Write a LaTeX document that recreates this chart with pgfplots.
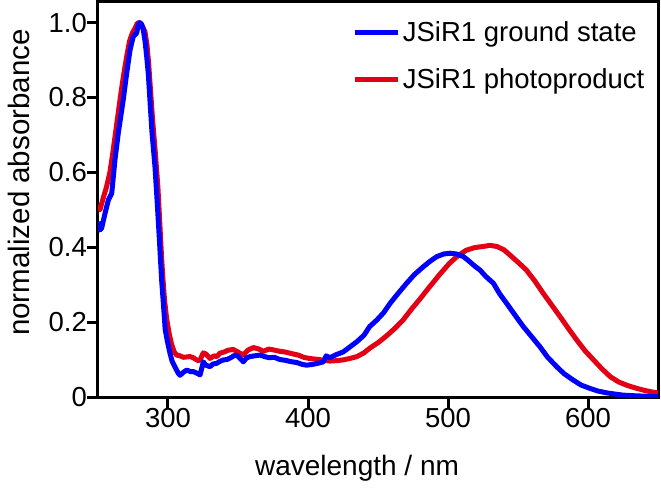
\documentclass[border=0pt]{standalone}
\usepackage{fontspec}
\setmainfont{Liberation Sans}
\usepackage{pgfplots}
\pgfplotsset{compat=1.18}
\definecolor{myblue}{RGB}{0,0,255}
\definecolor{myred}{RGB}{228,0,20}
\begin{document}
\begin{tikzpicture}[font=\fontsize{27.5}{32}\selectfont]
\begin{axis}[
  scale only axis,
  width=560pt, height=395pt,
  xmin=250, xmax=650,
  ymin=0, ymax=1.055,
  xtick={300,400,500,600},
  ytick={0,0.2,0.4,0.6,0.8,1.0},
  yticklabels={0,0.2,0.4,0.6,0.8,1.0},
  tick pos=left,
  tick align=outside,
  major tick length=11pt,
  tick style={line width=3pt, black},
  axis line style={line width=3pt},
  /pgf/number format/assume math mode=true,
  xticklabel style={anchor=north, inner sep=0pt},
  yticklabel style={anchor=east, inner sep=0pt},
  xlabel={wavelength / nm},
  ylabel={normalized absorbance},
  xlabel style={at={(axis description cs:0.4625,-0.18)}, anchor=center, font=\fontsize{28}{32}\selectfont},
  ylabel style={at={(axis description cs:-0.142,0.543)}, anchor=center, font=\fontsize{29.5}{34}\selectfont},
  legend style={at={(axis description cs:0.985,0.96)}, anchor=north east, draw=none, fill=none, row sep=21pt},
  legend cell align=left,
  reverse legend,
  legend image code/.code={\draw[#1, line width=5pt] (0pt,0pt) -- (43pt,0pt);},
  clip=true,
]
\addplot[myred, line width=5pt, line join=round] coordinates {
(250,0.513) (251.4,0.50) (252.5,0.515) (254,0.535) (256,0.56) (258.5,0.60) (260.5,0.65) (262.5,0.705) (264.5,0.76) (266.5,0.815) (268.5,0.865) (270.5,0.91) (272.5,0.95) (274.5,0.972) (276.5,0.985) (278,0.998) (279.5,1.0) (281,0.995) (282.4,0.985) (283.6,0.975) (285,0.94) (286.2,0.89) (287.5,0.82) (289,0.74) (291,0.65) (292.8,0.56) (294.2,0.46) (295.3,0.38) (296.3,0.32) (297.5,0.26) (299,0.21) (300.8,0.17) (302.6,0.14) (304.5,0.12) (306.2,0.112) (308.6,0.11) (311,0.106) (313.5,0.107) (315.7,0.108) (318,0.105) (320,0.1) (321.6,0.097) (323,0.1) (325.2,0.118) (327,0.115) (330,0.103) (333,0.11) (335,0.108) (337,0.117) (340,0.12) (343,0.125) (346.6,0.127) (350,0.12) (353.8,0.112) (357,0.125) (361,0.132) (365,0.128) (368,0.122) (372,0.128) (375,0.126) (380,0.122) (384,0.12) (387,0.117) (393,0.112) (397,0.106) (401,0.103) (408,0.1) (415.7,0.096) (420,0.097) (425,0.099) (430,0.103) (435,0.108) (440,0.118) (444,0.13) (450,0.145) (456,0.163) (462,0.183) (468,0.206) (474,0.235) (480,0.262) (487,0.295) (494,0.327) (501,0.357) (507,0.377) (513,0.392) (519,0.399) (525,0.402) (530,0.405) (535,0.402) (540,0.393) (544,0.38) (550,0.36) (556,0.339) (562,0.31) (568,0.277) (574,0.246) (580,0.215) (586,0.183) (592,0.152) (598,0.123) (604,0.099) (610,0.075) (616,0.054) (622,0.04) (628,0.031) (634,0.024) (640,0.018) (645,0.014) (650,0.011)
};
\addlegendentry{JSiR1 photoproduct}
\addplot[myblue, line width=5pt, line join=round] coordinates {
(250,0.468) (251.4,0.446) (252.6,0.451) (255,0.49) (257.4,0.526) (259.8,0.544) (261,0.59) (262.1,0.633) (264.5,0.705) (266.3,0.75) (268,0.793) (270.5,0.865) (272.9,0.927) (275.2,0.963) (277.6,0.972) (278.8,0.994) (279.9,1.0) (281.2,0.995) (282.4,0.98) (283.6,0.95) (284.8,0.909) (286,0.86) (287.1,0.793) (288.5,0.71) (290.7,0.615) (292.2,0.526) (293.6,0.437) (294.6,0.37) (295.5,0.31) (296.7,0.25) (298,0.18) (299.5,0.15) (301.4,0.117) (303,0.095) (305,0.08) (307.4,0.063) (308.6,0.058) (311,0.066) (313.4,0.072) (316,0.068) (318,0.068) (321,0.063) (322.9,0.059) (324,0.075) (325.2,0.094) (327,0.085) (330,0.081) (332,0.088) (334.8,0.09) (337,0.095) (339.5,0.099) (342,0.1) (344.3,0.104) (347,0.11) (349,0.112) (351,0.105) (353.8,0.094) (356,0.104) (358.6,0.108) (362,0.11) (365.7,0.112) (369,0.108) (372,0.105) (376,0.106) (380,0.1) (384,0.098) (387,0.095) (392,0.092) (396,0.087) (399,0.085) (403,0.087) (407,0.09) (411,0.094) (413,0.11) (415.7,0.105) (420,0.113) (425,0.12) (430,0.134) (435,0.148) (440,0.165) (444,0.188) (449,0.205) (454,0.225) (458.6,0.25) (464,0.275) (470.5,0.304) (476,0.327) (482.4,0.348) (487,0.362) (492,0.375) (497,0.382) (501.4,0.384) (506,0.382) (511,0.375) (515,0.363) (519,0.35) (522.9,0.339) (527,0.322) (532.4,0.304) (537,0.275) (541.9,0.25) (548,0.218) (553.8,0.188) (560,0.16) (565.7,0.134) (571,0.107) (577.6,0.081) (583,0.062) (589.5,0.045) (595,0.032) (601.4,0.023) (607,0.016) (613.4,0.011) (619,0.008) (625,0.005) (635,0.003) (650,0.001)
};
\addlegendentry{JSiR1 ground state}
\coordinate (O) at (rel axis cs:0,0);
\end{axis}
\pgfresetboundingbox
\useasboundingbox (O) ++(-98pt,-91pt) rectangle ++(661pt,488pt);
\end{tikzpicture}
\end{document}
